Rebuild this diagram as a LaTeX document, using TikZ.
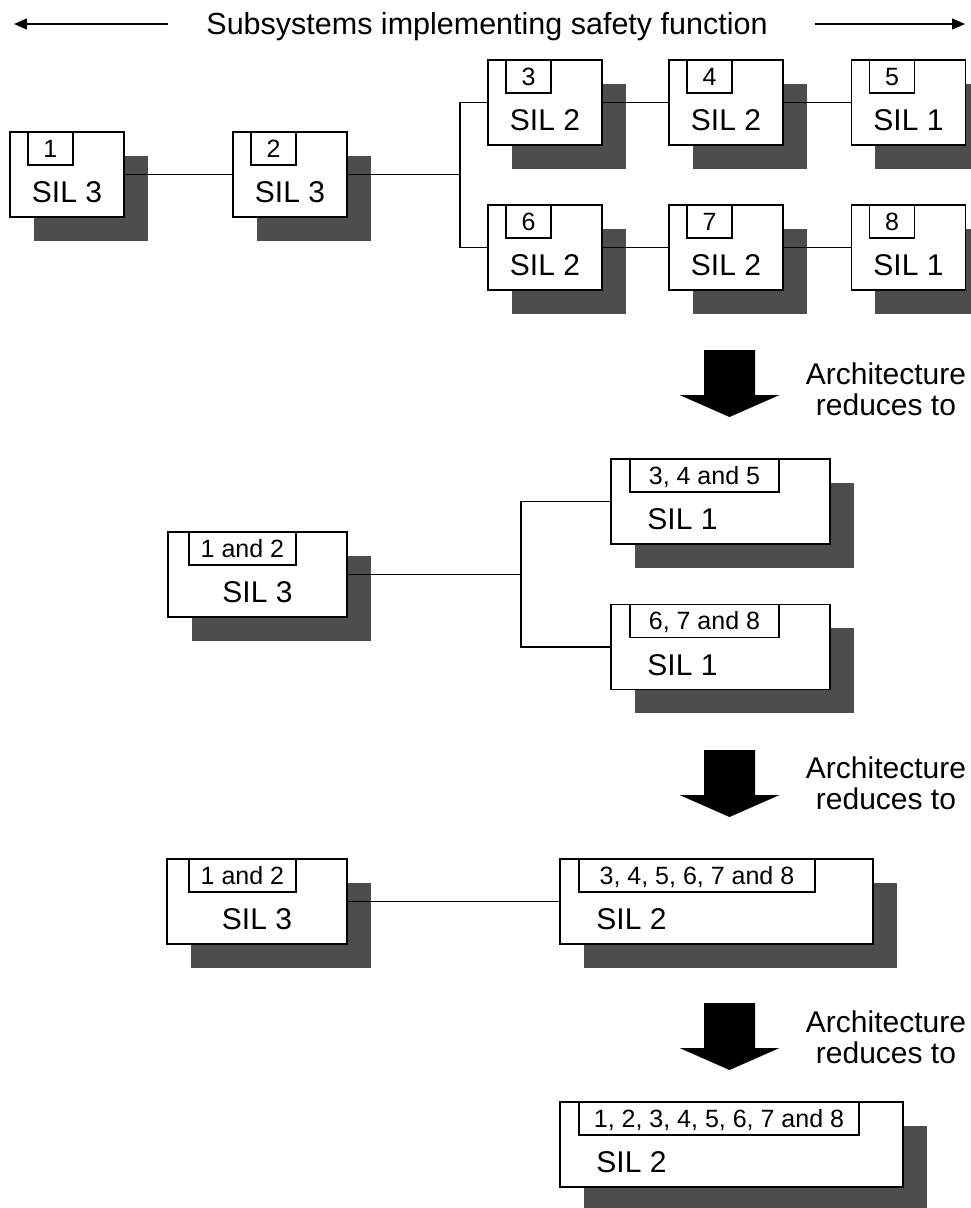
\documentclass[tikz,border=0pt]{standalone}
\usepackage{fontspec}
\setmainfont{Liberation Sans}
\usetikzlibrary{positioning, shadows, arrows.meta}
\definecolor{shadowgray}{RGB}{77,77,77}
\tikzset{
    unitbox/.style={rectangle, draw, fill=white, line width=1.5pt, minimum height=85pt, inner sep=0pt,
        drop shadow={shadow xshift=23.5pt, shadow yshift=-23.5pt, fill=shadowgray, opacity=1}},
    tagbox/.style={rectangle, draw, fill=white, line width=1.4pt, minimum height=33pt, inner sep=0pt,
        font=\fontsize{25}{27}\selectfont, text height=18pt, text depth=0pt},
    sil/.style={inner sep=0pt, font=\fontsize{30}{31}\selectfont, text height=21.5pt, text depth=0pt},
    heading/.style={inner sep=0pt, font=\fontsize{30.5}{31}\selectfont, text height=22pt, text depth=0pt},
    reducetext/.style={align=center, inner sep=0pt, font=\fontsize{30}{31}\selectfont},
    link/.style={line width=1.5pt},
    titlearrow/.style={line width=1.5pt, -{Triangle[length=13pt, width=11pt]}},
    bigarrow/.pic={\fill (-25.5,0) -- (25.5,0) -- (25.5,45) -- (50,45) -- (0,67) -- (-50,45) -- (-25.5,45) -- cycle;}
}

\begin{document}
\begin{tikzpicture}[x=1pt, y=-1pt]
    \useasboundingbox (0,0) rectangle (970,1208);

    % Title with arrows
    \node[heading] (title) at (487,23) {Subsystems implementing safety function};
    \coordinate (leftstart) at (168,24);
    \coordinate (leftend) at (14,24);
    \coordinate (rightstart) at (815,24);
    \coordinate (rightend) at (965,24);
    \draw[titlearrow] (leftstart) -- (leftend);
    \draw[titlearrow] (rightstart) -- (rightend);

    % Stage 1: eight subsystems
    \foreach \name/\x/\y/\num/\lvl in {u1/67/174.5/1/3, u2/290/174.5/2/3,
        u3/545/102.5/3/2, u4/726/102.5/4/2, u5/908.5/102.5/5/1,
        u6/545/247.5/6/2, u7/726/247.5/7/2, u8/908.5/247.5/8/1} {
        \node[unitbox, minimum width=114pt] (\name) at (\x,\y) {};
        \node[tagbox, minimum width=45pt, right=18pt of \name.north west, anchor=north west] (\name-tag) {\num};
        \node[sil, below=6.75pt of \name.center] (\name-sil) {SIL \lvl};
    }
    \coordinate (j1) at (460,174.5);
    \draw[link] (u1.east) -- (u2.west);
    \draw[link] (u2.east) -- (j1) |- (u3.west);
    \draw[link] (j1) |- (u6.west);
    \draw[link] (u3.east) -- (u4.west);
    \draw[link] (u4.east) -- (u5.west);
    \draw[link] (u6.east) -- (u7.west);
    \draw[link] (u7.east) -- (u8.west);

    \pic at (729.5,350) {bigarrow};
    \node[reducetext] (reduce1) at (886,389) {Architecture\\reduces to};

    % Stage 2
    \node[unitbox, minimum width=179pt] (v1) at (257.5,574.5) {};
    \node[tagbox, minimum width=107pt, right=21pt of v1.north west, anchor=north west] (v1-tag) {1 and 2};
    \node[sil, below=6.75pt of v1.center] (v1-sil) {SIL 3};

    \node[unitbox, minimum width=219pt] (v2) at (720.5,501.5) {};
    \node[tagbox, minimum width=149pt, right=19pt of v2.north west, anchor=north west] (v2-tag) {3, 4 and 5};
    \node[sil, right=37pt of v2.west, anchor=west, yshift=-17.5pt] (v2-sil) {SIL 1};

    \node[unitbox, minimum width=219pt] (v3) at (720.5,647) {};
    \node[tagbox, minimum width=149pt, right=19pt of v3.north west, anchor=north west] (v3-tag) {6, 7 and 8};
    \node[sil, right=37pt of v3.west, anchor=west, yshift=-17.5pt] (v3-sil) {SIL 1};

    \coordinate (j2) at (521,574.5);
    \draw[link] (v1.east) -- (j2) |- (v2.west);
    \draw[link] (j2) |- (v3.west);

    \pic at (729.5,750) {bigarrow};
    \node[reducetext] (reduce2) at (886,783) {Architecture\\reduces to};

    % Stage 3
    \node[unitbox, minimum width=180pt] (w1) at (257,901.5) {};
    \node[tagbox, minimum width=107pt, right=22pt of w1.north west, anchor=north west] (w1-tag) {1 and 2};
    \node[sil, below=6.75pt of w1.center] (w1-sil) {SIL 3};

    \node[unitbox, minimum width=313pt] (w2) at (716.5,901.5) {};
    \node[tagbox, minimum width=236pt, right=19pt of w2.north west, anchor=north west] (w2-tag) {3, 4, 5, 6, 7 and 8};
    \node[sil, right=37pt of w2.west, anchor=west, yshift=-17.5pt] (w2-sil) {SIL 2};

    \draw[link] (w1.east) -- (w2.west);

    \pic at (729.5,1003) {bigarrow};
    \node[reducetext] (reduce3) at (886,1037) {Architecture\\reduces to};

    % Stage 4
    \node[unitbox, minimum width=343pt] (z1) at (731.5,1144.5) {};
    \node[tagbox, minimum width=280pt, right=19pt of z1.north west, anchor=north west] (z1-tag) {1, 2, 3, 4, 5, 6, 7 and 8};
    \node[sil, right=37pt of z1.west, anchor=west, yshift=-17.5pt] (z1-sil) {SIL 2};
\end{tikzpicture}
\end{document}
